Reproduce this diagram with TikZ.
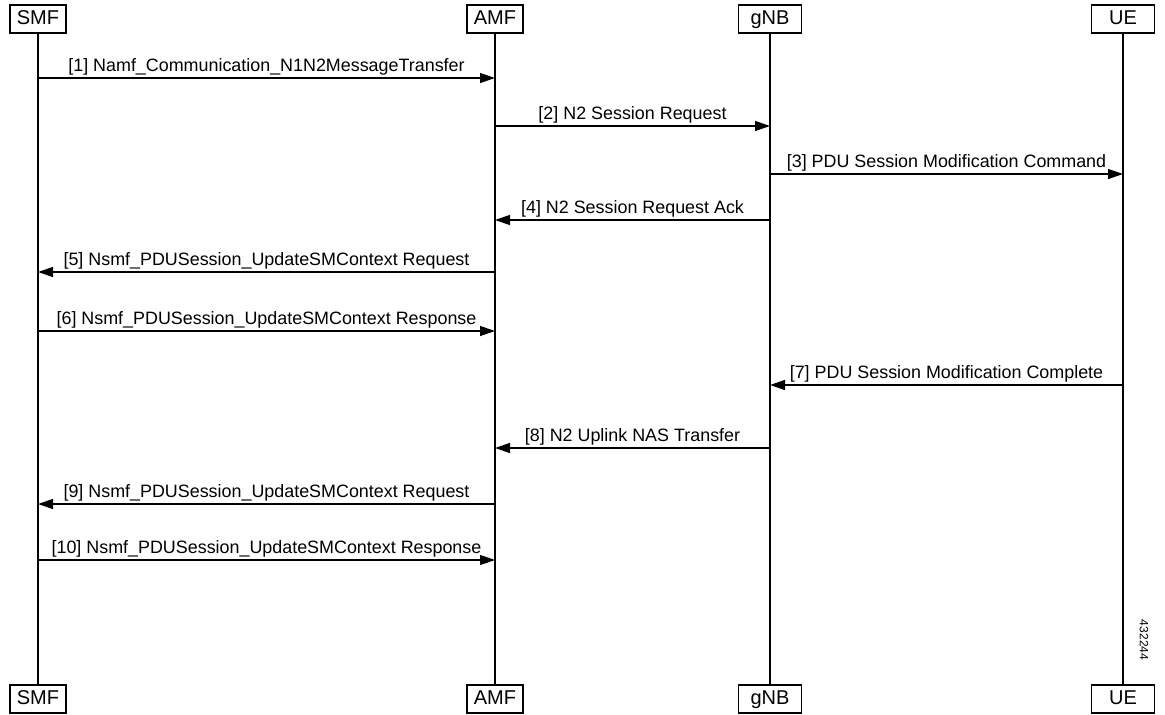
\documentclass[tikz,border=0pt]{standalone}
\usepackage{fontspec}
\setmainfont{Liberation Sans}
\usetikzlibrary{arrows.meta,positioning}

\begin{document}
\begin{tikzpicture}[
		x=1pt, y=-1pt,
		>={Triangle[length=15pt,width=10pt]},
		font=\fontsize{17.9}{20}\selectfont,
		entity/.style={
			rectangle,
			draw=black,
			line width=1.2pt,
			text centered,
			minimum width=56pt,
			minimum height=28pt,
			text height=14pt,
			text depth=4pt,
			inner sep=2pt,
			fill=white,
			font=\fontsize{20}{22}\selectfont
		},
		lifeline/.style={
			line width=1.3pt
		},
		msg/.style={
			->,
			line width=1.3pt
		},
		msglabel/.style={
			above=1pt,
			inner sep=1pt
		}
		]
		\useasboundingbox (0,0) rectangle (1165,715);
		
		% We start by placing the entities, on top and at the bottom
		\node [entity] (smf) at (38,19) {SMF};
		\node [entity] (amf) at (495,19) {AMF};
		\node [entity, minimum width=63pt] (gnb) at (770,19) {gNB};
		\node [entity, minimum width=63pt] (ue) at (1123,19) {UE};
		
		\node [entity] (smfb) at (38,699) {SMF};
		\node [entity] (amfb) at (495,699) {AMF};
		\node [entity, minimum width=63pt] (gnbb) at (770,699) {gNB};
		\node [entity, minimum width=63pt] (ueb) at (1123,699) {UE};
		
		% lifelines
		\foreach \top/\bot in {smf/smfb, amf/amfb, gnb/gnbb, ue/ueb}
			\draw [lifeline] (\top) -- (\bot);
		
		% the messages
		\foreach \src/\dst/\yy/\txt in {
			smf/amf/78/{[1] Namf\_Communication\_N1N2MessageTransfer},
			amf/gnb/126/{[2] N2 Session Request},
			gnb/ue/174/{[3] PDU Session Modification Command},
			gnb/amf/220/{[4] N2 Session Request Ack},
			amf/smf/272/{[5] Nsmf\_PDUSession\_UpdateSMContext Request},
			smf/amf/331/{[6] Nsmf\_PDUSession\_UpdateSMContext Response},
			ue/gnb/385/{[7] PDU Session Modification Complete},
			gnb/amf/448/{[8] N2 Uplink NAS Transfer},
			amf/smf/504/{[9] Nsmf\_PDUSession\_UpdateSMContext Request},
			smf/amf/560/{[10] Nsmf\_PDUSession\_UpdateSMContext Response}}
			\draw [msg] (\src |- 0,\yy) -- node [msglabel] {\txt} (\dst |- 0,\yy);
		
		\node [rotate=-90, font=\fontsize{12}{14}\selectfont] (figid) at (1144,640) {432244};
		
\end{tikzpicture}
\end{document}
